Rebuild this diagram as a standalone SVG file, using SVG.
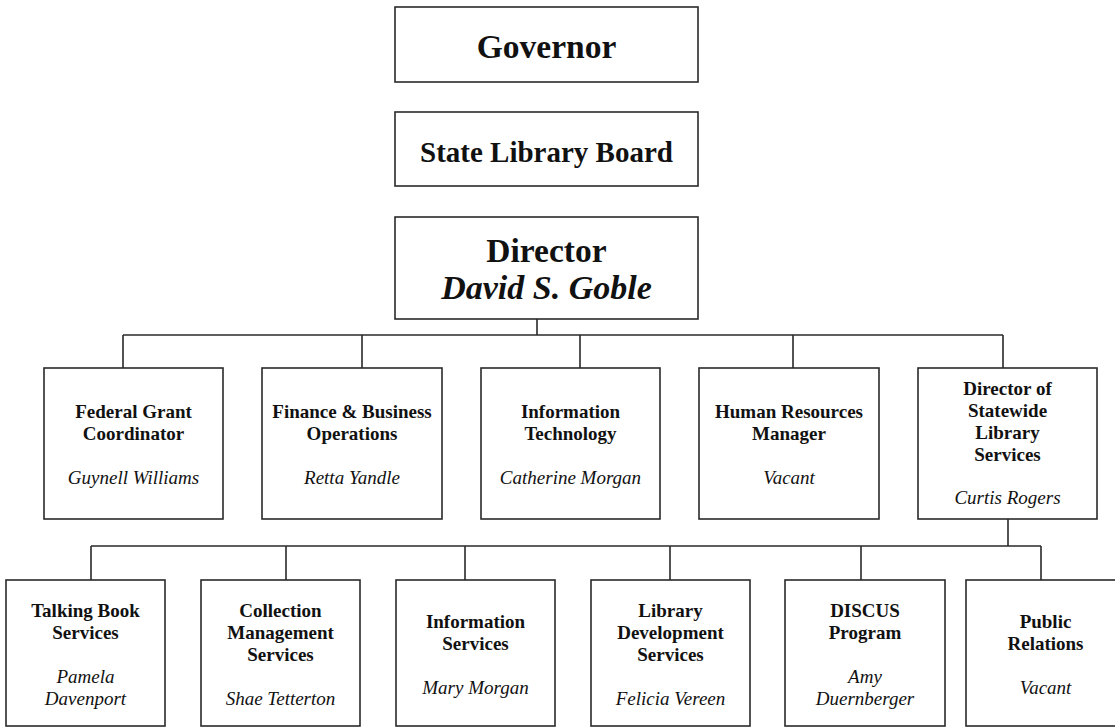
<svg xmlns="http://www.w3.org/2000/svg" width="1115" height="727" viewBox="0 0 1115 727">
  <style>
    .box { fill: #ffffff; stroke: #2a2a2a; stroke-width: 1.6; }
    .link { fill: none; stroke: #2a2a2a; stroke-width: 1.6; }
    text { font-family: "Liberation Serif", "Times New Roman", serif; fill: #111; text-anchor: middle; }
    .title { font-weight: bold; }
    .name { font-weight: bold; font-style: italic; }
    .t { font-size: 19px; font-weight: bold; }
    .n { font-size: 19px; font-style: italic; }
  </style>
  <rect width="1115" height="727" fill="#ffffff"/>

  <!-- connectors -->
  <g id="connectors">
    <path class="link" d="M537,319 V335 M123,335 H1003 M123,335 V368 M362,335 V368 M580,335 V368 M793,335 V368 M1003,335 V368"/>
    <path class="link" d="M1008,519 V546 M91,546 H1041 M91,546 V580 M286,546 V580 M465,546 V580 M670,546 V580 M861,546 V580 M1041,546 V580"/>
  </g>

  <!-- top chain -->
  <g id="governor">
    <rect class="box" x="395" y="7" width="303" height="75"/>
    <text class="title" x="546.5" y="58" font-size="33.5">Governor</text>
  </g>
  <g id="state-library-board">
    <rect class="box" x="395" y="112" width="303" height="74"/>
    <text class="title" x="546.5" y="162" font-size="29">State Library Board</text>
  </g>
  <g id="director">
    <rect class="box" x="395" y="217" width="303" height="102"/>
    <text class="title" x="546.5" y="262" font-size="33.5">Director</text>
    <text class="name" x="546.5" y="299" font-size="34">David S. Goble</text>
  </g>

  <!-- second tier -->
  <g id="federal-grant">
    <rect class="box" x="44" y="368" width="179" height="151"/>
    <text class="t" x="133.5" y="418">Federal Grant</text>
    <text class="t" x="133.5" y="440">Coordinator</text>
    <text class="n" x="133.5" y="484">Guynell Williams</text>
  </g>
  <g id="finance">
    <rect class="box" x="262" y="368" width="180" height="151"/>
    <text class="t" x="352" y="418">Finance &amp; Business</text>
    <text class="t" x="352" y="440">Operations</text>
    <text class="n" x="352" y="484">Retta Yandle</text>
  </g>
  <g id="information-technology">
    <rect class="box" x="481" y="368" width="179" height="151"/>
    <text class="t" x="570.5" y="418">Information</text>
    <text class="t" x="570.5" y="440">Technology</text>
    <text class="n" x="570.5" y="484">Catherine Morgan</text>
  </g>
  <g id="human-resources">
    <rect class="box" x="699" y="368" width="180" height="151"/>
    <text class="t" x="789" y="418">Human Resources</text>
    <text class="t" x="789" y="440">Manager</text>
    <text class="n" x="789" y="484">Vacant</text>
  </g>
  <g id="statewide-services">
    <rect class="box" x="918" y="368" width="179" height="151"/>
    <text class="t" x="1007.5" y="395">Director of</text>
    <text class="t" x="1007.5" y="417">Statewide</text>
    <text class="t" x="1007.5" y="439">Library</text>
    <text class="t" x="1007.5" y="461">Services</text>
    <text class="n" x="1007.5" y="504">Curtis Rogers</text>
  </g>

  <!-- third tier -->
  <g id="talking-book">
    <rect class="box" x="6" y="580" width="159" height="146"/>
    <text class="t" x="85.5" y="617">Talking Book</text>
    <text class="t" x="85.5" y="639">Services</text>
    <text class="n" x="85.5" y="683">Pamela</text>
    <text class="n" x="85.5" y="705">Davenport</text>
  </g>
  <g id="collection-management">
    <rect class="box" x="201" y="580" width="159" height="146"/>
    <text class="t" x="280.5" y="617">Collection</text>
    <text class="t" x="280.5" y="639">Management</text>
    <text class="t" x="280.5" y="661">Services</text>
    <text class="n" x="280.5" y="705">Shae Tetterton</text>
  </g>
  <g id="information-services">
    <rect class="box" x="396" y="580" width="159" height="146"/>
    <text class="t" x="475.5" y="628">Information</text>
    <text class="t" x="475.5" y="650">Services</text>
    <text class="n" x="475.5" y="694">Mary Morgan</text>
  </g>
  <g id="library-development">
    <rect class="box" x="591" y="580" width="159" height="146"/>
    <text class="t" x="670.5" y="617">Library</text>
    <text class="t" x="670.5" y="639">Development</text>
    <text class="t" x="670.5" y="661">Services</text>
    <text class="n" x="670.5" y="705">Felicia Vereen</text>
  </g>
  <g id="discus">
    <rect class="box" x="785" y="580" width="160" height="146"/>
    <text class="t" x="865" y="617">DISCUS</text>
    <text class="t" x="865" y="639">Program</text>
    <text class="n" x="865" y="683">Amy</text>
    <text class="n" x="865" y="705">Duernberger</text>
  </g>
  <g id="public-relations">
    <rect class="box" x="966" y="580" width="159" height="146"/>
    <text class="t" x="1045.5" y="628">Public</text>
    <text class="t" x="1045.5" y="650">Relations</text>
    <text class="n" x="1045.5" y="694">Vacant</text>
  </g>
</svg>
